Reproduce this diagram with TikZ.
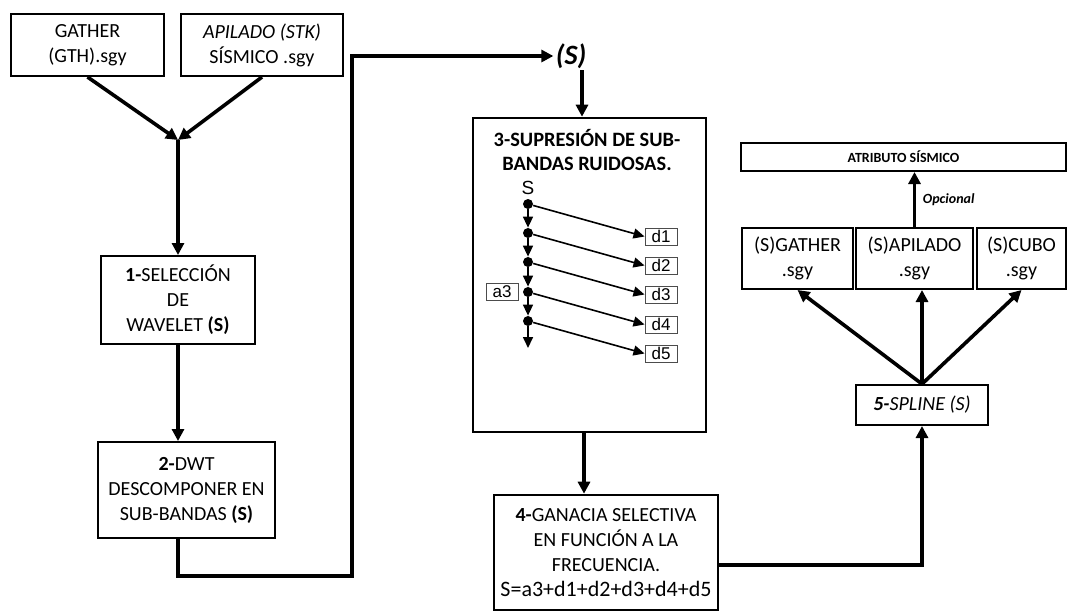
\documentclass[tikz,border=0pt]{standalone}
\usepackage{fontspec}
\setmainfont{Carlito}
\newfontfamily\arialfont{Liberation Sans}
\usetikzlibrary{arrows.meta}

\begin{document}
\begin{tikzpicture}[x=0.5pt, y=-0.5pt,
    box/.style={rectangle, draw=black, line width=1pt, fill=white, align=center,
                inner sep=0pt, font=\fontsize{10}{12.5}\selectfont},
    arrow/.style={-{Triangle[length=6pt,width=6pt]}, line width=1.8pt},
    thin/.style={-{Triangle[length=5.5pt,width=5pt]}, line width=0.8pt},
    band/.style={rectangle, draw=black!70, line width=0.5pt, minimum width=16pt,
                 minimum height=8.5pt, inner sep=0pt, font=\arialfont\fontsize{8.5}{9}\selectfont},
    dot/.style={circle, fill=black, inner sep=0pt, minimum size=5pt}
]
\useasboundingbox (0,0) rectangle (1068,611);

% inputs
\node[box, minimum width=76.5pt, minimum height=31pt] (gth) at (87.5,45) {GATHER\\(GTH).sgy};
\node[box, minimum width=81pt, minimum height=31pt] (stk) at (262,45) {\textit{APILADO (STK)}\\SÍSMICO .sgy};
\coordinate (join) at (178,140);

% steps 1 and 2
\node[box, minimum width=77pt, minimum height=44pt] (sel) at (178,300) {\textbf{1-}SELECCIÓN\\DE\\WAVELET \textbf{(S)}};
\node[box, minimum width=88.5pt, minimum height=48pt] (dwt) at (186.5,490) {\textbf{2-}DWT\\DESCOMPONER EN\\SUB-BANDAS \textbf{(S)}};
\coordinate (loop) at (352,576);
\node[inner sep=1pt, font=\bfseries\itshape\fontsize{14}{14}\selectfont] (sval) at (571,56) {(S)};

% step 3
\node[box, line width=1.3pt, minimum width=116.5pt, minimum height=157pt] (sup) at (589.5,275) {};
\node[align=center, font=\bfseries\fontsize{10.2}{12}\selectfont] (suptitle) at (587,150) {3-SUPRESIÓN DE SUB-\\BANDAS RUIDOSAS.};
\node[inner sep=0pt, font=\arialfont\fontsize{9.5}{9.5}\selectfont] (slab) at (528,188) {S};
\foreach \k/\yy in {1/204,2/233,3/262,4/292,5/321} {
    \node[dot] (p\k) at (528,\yy) {};
    \node[band] (d\k) at (661,\yy+32.5) {d\k};
    \draw[thin] (p\k) -- (d\k.west);
}
\foreach \k/\n in {1/2,2/3,3/4,4/5}
    \draw[thin] (p\k) -- (p\n.north);
\coordinate (chainend) at (528,348);
\draw[thin] (p5) -- (chainend);
\node[band] (a3) at (502,292) {a3};

% step 4
\node[box, line width=1.3pt, minimum width=112pt, minimum height=57.5pt] (gan) at (606,552.5)
    {\textbf{4-}GANACIA SELECTIVA\\EN FUNCIÓN A LA\\FRECUENCIA.\\{\fontsize{11}{13}\selectfont S=a3+d1+d2+d3+d4+d5}};

% step 5 and outputs
\node[box, minimum width=66pt, minimum height=20pt] (spl) at (922,405) {\textbf{\textit{5-}}\textit{SPLINE (S)}};
\node[box, minimum width=55.5pt, minimum height=30.5pt] (sgth) at (797.5,258.5) {(S)GATHER\\.sgy};
\node[box, minimum width=58.5pt, minimum height=30.5pt] (sapi) at (914.5,258.5) {(S)APILADO\\.sgy};
\node[box, minimum width=44.5pt, minimum height=30.5pt] (scubo) at (1021.5,258.5) {(S)CUBO\\.sgy};
\node[box, minimum width=162.5pt, minimum height=14pt, font=\bfseries\fontsize{7}{8}\selectfont] (atr) at (903.5,157) {ATRIBUTO SÍSMICO};

\coordinate (sdrop) at (582,70);
\coordinate (sbot) at (584,432);
\coordinate (gout) at (718,565);

\draw[arrow] (gth.south) -- (join);
\draw[arrow] (stk.south) -- (join);
\draw[arrow] (join) -- (join |- sel.north);
\draw[arrow] (sel.south) -- (sel.south |- dwt.north);
\draw[arrow] (dwt.south -| sel.south) |- (loop) |- (sval.west);
\draw[arrow] (sdrop) -- (sdrop |- sup.north);
\draw[arrow] (sbot) -- (sbot |- gan.north);
\draw[arrow] (gout) -| (spl.south);
\draw[arrow] (spl.north) -- (sgth.south);
\draw[arrow] (spl.north) -- (spl.north |- sapi.south);
\draw[arrow] (spl.north) -- (scubo.south);
\draw[arrow] (sapi.north) -- node[right, font=\bfseries\itshape\fontsize{7}{8}\selectfont] {Opcional} (sapi.north |- atr.south);
\end{tikzpicture}
\end{document}
